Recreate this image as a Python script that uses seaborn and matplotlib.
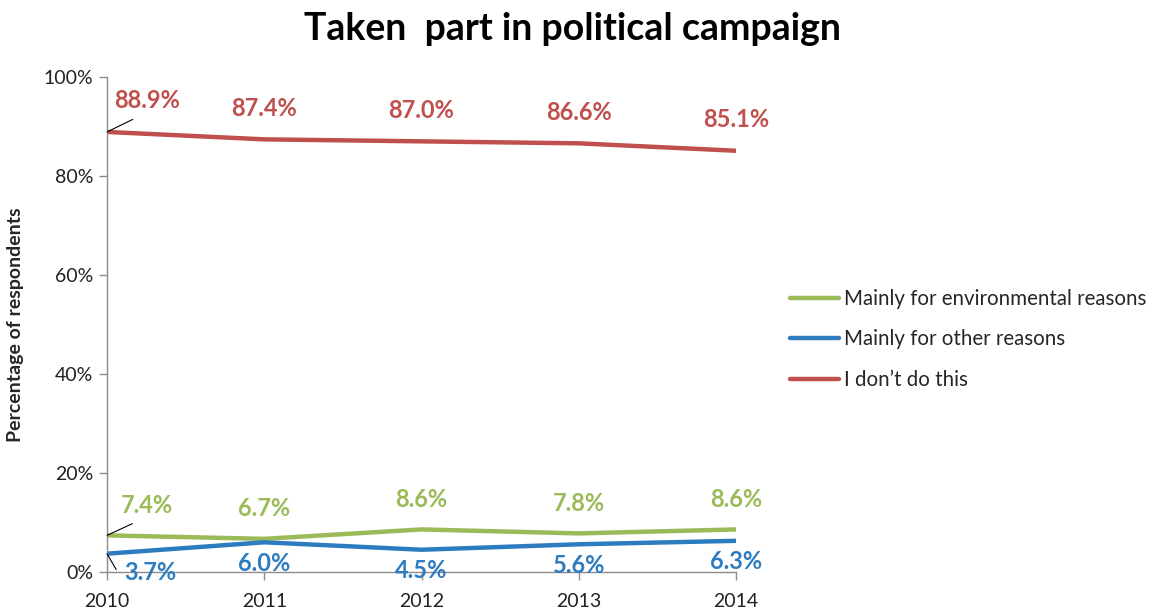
import matplotlib
matplotlib.use("Agg")
import matplotlib.pyplot as plt
import seaborn as sns
import pandas as pd

years = [2010, 2011, 2012, 2013, 2014]
environmental = [7.4, 6.7, 8.6, 7.8, 8.6]
other = [3.7, 6.0, 4.5, 5.6, 6.3]
dont = [88.9, 87.4, 87.0, 86.6, 85.1]
series_names = ["Mainly for environmental reasons", "Mainly for other reasons", "I don\u2019t do this"]
colors = ["#9BBB59", "#2E7CC0", "#C0504D"]
y_ticks = [0, 20, 40, 60, 80, 100]

sns.set_theme(style="white")
plt.rcParams["font.family"] = ["Lato", "DejaVu Sans"]

rows = []
for name, vals in zip(series_names, [environmental, other, dont]):
    for yr, v in zip(years, vals):
        rows.append({"Year": yr, "Value": v, "Series": name})
df = pd.DataFrame(rows)

fig = plt.figure(figsize=(11.51, 6.14), dpi=100)
ax = fig.add_axes([0.093, 0.0684, 0.5465, 0.8062])

sns.lineplot(data=df, x="Year", y="Value", hue="Series", hue_order=series_names,
             palette=colors, linewidth=3.2, ax=ax, legend=True)

ax.set_xlim(years[0], years[-1])
ax.set_ylim(0, 100)
ax.set_xticks(years)
ax.set_xticklabels([str(y) for y in years], fontsize=14)
ax.set_yticks(y_ticks)
ax.set_yticklabels([f"{t}%" for t in y_ticks], fontsize=14)
ax.set_xlabel("")
ax.set_ylabel("Percentage of respondents", fontsize=14, fontweight="bold", labelpad=14)

for side in ["top", "right"]:
    ax.spines[side].set_visible(False)
for side in ["left", "bottom"]:
    ax.spines[side].set_color("#8C8C8C")
    ax.spines[side].set_linewidth(1.0)
ax.tick_params(axis="both", which="major", direction="out", length=6, width=1.0,
               color="#8C8C8C", labelcolor="#222222", pad=4)
ax.tick_params(axis="x", pad=9)
ax.tick_params(left=True, bottom=True)
ax.grid(False)

label_kw = dict(textcoords="offset pixels", ha="center", va="center",
                fontsize=17, fontweight="bold", annotation_clip=False)

# data labels: red and green above the line, blue below
for i, (yr, v) in enumerate(zip(years, dont)):
    if i == 0:
        ax.annotate(f"{v:.1f}%", xy=(yr, v), xytext=(40, 31), color=colors[2],
                    arrowprops=dict(arrowstyle="-", color="black", lw=0.8,
                                    relpos=(0.5, 0.0), shrinkA=6, shrinkB=0),
                    **label_kw)
    else:
        ax.annotate(f"{v:.1f}%", xy=(yr, v), xytext=(0, 31), color=colors[2], **label_kw)

for i, (yr, v) in enumerate(zip(years, environmental)):
    if i == 0:
        ax.annotate(f"{v:.1f}%", xy=(yr, v), xytext=(40, 30), color=colors[0],
                    arrowprops=dict(arrowstyle="-", color="black", lw=0.8,
                                    relpos=(0.5, 0.0), shrinkA=6, shrinkB=0),
                    **label_kw)
    else:
        ax.annotate(f"{v:.1f}%", xy=(yr, v), xytext=(0, 30), color=colors[0], **label_kw)

for i, (yr, v) in enumerate(zip(years, other)):
    if i == 0:
        ax.annotate(f"{v:.1f}%", xy=(yr, v), xytext=(43, -19), color=colors[1],
                    arrowprops=dict(arrowstyle="-", color="black", lw=0.8,
                                    relpos=(0.0, 0.5), shrinkA=4, shrinkB=0,
                                    connectionstyle="angle,angleA=180,angleB=-60,rad=0"),
                    **label_kw)
    else:
        ax.annotate(f"{v:.1f}%", xy=(yr, v), xytext=(0, -21), color=colors[1], **label_kw)

leg = ax.legend(loc="center left", bbox_to_anchor=(1.073, 0.47), frameon=False,
                borderaxespad=0, fontsize=14.8, handlelength=2.35,
                handletextpad=0.25, labelspacing=1.0)
for line in leg.get_lines():
    line.set_linewidth(3.2)

fig.text(0.497, 0.953, "Taken  part in political campaign", ha="center", va="center",
         fontsize=27, fontweight="bold", color="black")

fig.savefig("out.png", dpi=100)
